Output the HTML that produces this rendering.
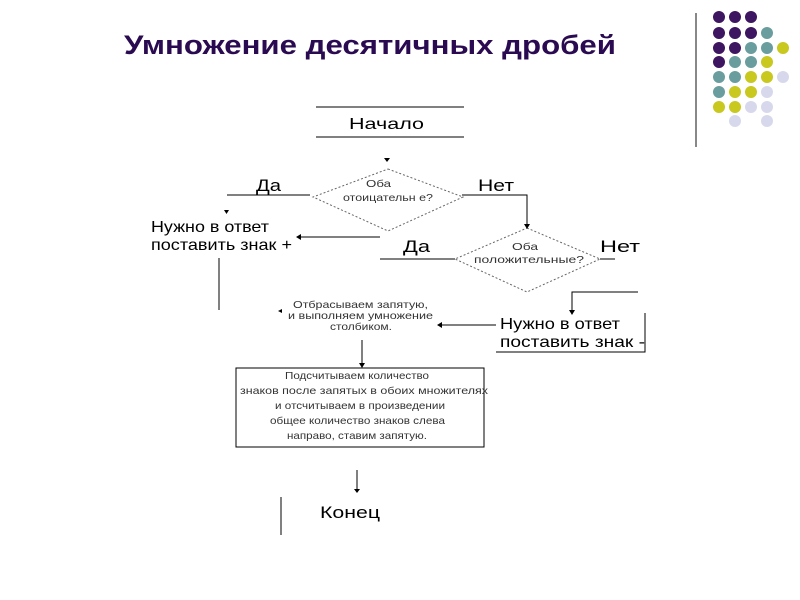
<!DOCTYPE html>
<html><head><meta charset="utf-8"><style>
body{margin:0;background:#fff;width:800px;height:600px;overflow:hidden}
svg{display:block}
text{font-family:"Liberation Sans",sans-serif}
</style></head><body>
<svg width="800" height="600" viewBox="0 0 800 600" xmlns="http://www.w3.org/2000/svg">
<text x="124" y="54" font-size="27" font-weight="bold" fill="#2a0a50" textLength="492" lengthAdjust="spacingAndGlyphs">Умножение десятичных дробей</text>
<line x1="696" y1="13" x2="696" y2="147" stroke="#888" stroke-width="2"/>
<g>
<circle cx="719" cy="17" r="6" fill="#3d1560"/><circle cx="735" cy="17" r="6" fill="#3d1560"/><circle cx="751" cy="17" r="6" fill="#3d1560"/>
<circle cx="719" cy="33" r="6" fill="#3d1560"/><circle cx="735" cy="33" r="6" fill="#3d1560"/><circle cx="751" cy="33" r="6" fill="#3d1560"/><circle cx="767" cy="33" r="6" fill="#6a9e9e"/>
<circle cx="719" cy="48" r="6" fill="#3d1560"/><circle cx="735" cy="48" r="6" fill="#3d1560"/><circle cx="751" cy="48" r="6" fill="#6a9e9e"/><circle cx="767" cy="48" r="6" fill="#6a9e9e"/><circle cx="783" cy="48" r="6" fill="#c8c81e"/>
<circle cx="719" cy="62" r="6" fill="#3d1560"/><circle cx="735" cy="62" r="6" fill="#6a9e9e"/><circle cx="751" cy="62" r="6" fill="#6a9e9e"/><circle cx="767" cy="62" r="6" fill="#c8c81e"/>
<circle cx="719" cy="77" r="6" fill="#6a9e9e"/><circle cx="735" cy="77" r="6" fill="#6a9e9e"/><circle cx="751" cy="77" r="6" fill="#c8c81e"/><circle cx="767" cy="77" r="6" fill="#c8c81e"/><circle cx="783" cy="77" r="6" fill="#d8d8ec"/>
<circle cx="719" cy="92" r="6" fill="#6a9e9e"/><circle cx="735" cy="92" r="6" fill="#c8c81e"/><circle cx="751" cy="92" r="6" fill="#c8c81e"/><circle cx="767" cy="92" r="6" fill="#d8d8ec"/>
<circle cx="719" cy="107" r="6" fill="#c8c81e"/><circle cx="735" cy="107" r="6" fill="#c8c81e"/><circle cx="751" cy="107" r="6" fill="#d8d8ec"/><circle cx="767" cy="107" r="6" fill="#d8d8ec"/>
<circle cx="735" cy="121" r="6" fill="#d8d8ec"/><circle cx="767" cy="121" r="6" fill="#d8d8ec"/>
</g>
<g stroke="#000" stroke-width="1" fill="none">
<line x1="316" y1="107" x2="464" y2="107"/><line x1="316" y1="137" x2="464" y2="137"/>
<polygon points="388,169 463,197 388,231 313,197" stroke="#666" stroke-dasharray="2,2"/>
<polygon points="527,228 600,259 527,292 455,259" stroke="#666" stroke-dasharray="2,2"/>
<line x1="227" y1="195" x2="310" y2="195"/>
<polyline points="462,195 527,195 527,226"/>
<line x1="300" y1="237" x2="380" y2="237"/>
<line x1="380" y1="259" x2="455" y2="259"/>
<line x1="600" y1="259" x2="615" y2="259"/>
<line x1="219" y1="258" x2="219" y2="310"/>
<polyline points="638,292 572,292 572,311"/>
<polyline points="645,313 645,352 496,352"/>
<line x1="440" y1="325" x2="496" y2="325"/>
<line x1="362" y1="340" x2="362" y2="365"/>
<rect x="236" y="368" width="248" height="79"/>
<line x1="357" y1="470" x2="357" y2="490"/>
<line x1="281" y1="497" x2="281" y2="535"/>
</g>
<g fill="#000">
<polygon points="384,158 390,158 387,162"/>
<polygon points="224,210 229,210 226.5,214"/>
<polygon points="524,224 530,224 527,229"/>
<polygon points="296,237 301,234 301,240"/>
<polygon points="569,310 575,310 572,315"/>
<polygon points="437,325 442,322 442,328"/>
<polygon points="359,363 365,363 362,368"/>
<polygon points="354,489 360,489 357,493"/>
<polygon points="278,311 282,309 282,313"/>
</g>
<g fill="#000" font-size="16" lengthAdjust="spacingAndGlyphs">
<text x="349" y="129" textLength="75" lengthAdjust="spacingAndGlyphs">Начало</text>
<text x="256" y="191" font-size="17" textLength="25" lengthAdjust="spacingAndGlyphs">Да</text>
<text x="478" y="191" font-size="17" textLength="36" lengthAdjust="spacingAndGlyphs">Нет</text>
<text x="151" y="232" textLength="118" lengthAdjust="spacingAndGlyphs">Нужно в ответ</text>
<text x="151" y="250" textLength="141" lengthAdjust="spacingAndGlyphs">поставить знак +</text>
<text x="403" y="252" font-size="17" textLength="27" lengthAdjust="spacingAndGlyphs">Да</text>
<text x="600" y="252" font-size="17" textLength="40" lengthAdjust="spacingAndGlyphs">Нет</text>
<text x="500" y="329" textLength="120" lengthAdjust="spacingAndGlyphs">Нужно в ответ</text>
<text x="500" y="347" textLength="145" lengthAdjust="spacingAndGlyphs">поставить знак -</text>
<text x="320" y="518" font-size="17" textLength="60" lengthAdjust="spacingAndGlyphs">Конец</text>
</g>
<g fill="#333" font-size="10.5">
<text x="366" y="187" textLength="25" lengthAdjust="spacingAndGlyphs">Оба</text>
<text x="343" y="201" textLength="90" lengthAdjust="spacingAndGlyphs">отоицательн е?</text>
<text x="512" y="250" textLength="26" lengthAdjust="spacingAndGlyphs">Оба</text>
<text x="474" y="263" textLength="110" lengthAdjust="spacingAndGlyphs">положительные?</text>
<text x="293" y="308" textLength="135" lengthAdjust="spacingAndGlyphs">Отбрасываем запятую,</text>
<text x="288" y="319" textLength="145" lengthAdjust="spacingAndGlyphs">и выполняем умножение</text>
<text x="330" y="330" textLength="62" lengthAdjust="spacingAndGlyphs">столбиком.</text>
<text x="285" y="379" textLength="144" lengthAdjust="spacingAndGlyphs">Подсчитываем количество</text>
<text x="240" y="394" textLength="248" lengthAdjust="spacingAndGlyphs">знаков после запятых в обоих множителях</text>
<text x="275" y="409" textLength="170" lengthAdjust="spacingAndGlyphs">и отсчитываем в произведении</text>
<text x="270" y="424" textLength="175" lengthAdjust="spacingAndGlyphs">общее количество знаков слева</text>
<text x="287" y="439" textLength="140" lengthAdjust="spacingAndGlyphs">направо, ставим запятую.</text>
</g>
</svg>
</body></html>
